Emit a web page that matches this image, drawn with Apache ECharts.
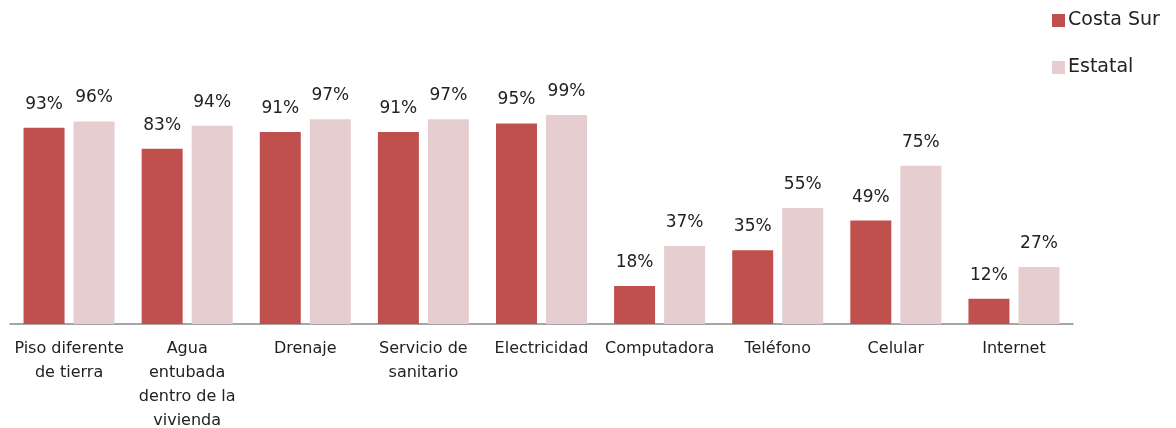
<!DOCTYPE html>
<html>
<head>
<meta charset="utf-8">
<script src="https://cdn.jsdelivr.net/npm/echarts@6/dist/echarts.min.js"></script>
<style>
  html, body { margin: 0; padding: 0; background: #fff; }
  #chart { width: 1176px; height: 428px; }
</style>
</head>
<body>
<div id="chart"></div>
<script>
var categories = ["Piso diferente\nde tierra", "Agua\nentubada\ndentro de la\nvivienda", "Drenaje", "Servicio de\nsanitario", "Electricidad", "Computadora", "Teléfono", "Celular", "Internet"];
var costaSur = [93, 83, 91, 91, 95, 18, 35, 49, 12];
var estatal = [96, 94, 97, 97, 99, 37, 55, 75, 27];
var seriesNames = ["Costa Sur", "Estatal"];

var fontFam = "DejaVu Sans";
var chart = echarts.init(document.getElementById("chart"));
chart.setOption({
    animation: false,
    textStyle: { fontFamily: fontFam },
    legend: {
        orient: "vertical",
        left: 1052,
        top: 11,
        padding: 0,
        itemWidth: 13,
        itemHeight: 13,
        itemGap: 28,
        icon: "rect",
        textStyle: { fontSize: 19, color: "#222", padding: [0, 0, 0, -2] },
        data: seriesNames
    },
    grid: { left: 10, right: 103, top: 113, bottom: 104, outerBoundsMode: "none" },
    xAxis: {
        type: "category",
        data: categories,
        axisLine: { lineStyle: { color: "#888", width: 1.5 } },
        axisTick: { show: false },
        axisLabel: { interval: 0, color: "#222", fontSize: 16, lineHeight: 24, margin: 13 }
    },
    yAxis: {
        type: "value",
        min: 0,
        max: 100,
        show: false,
        splitLine: { show: false }
    },
    series: [{
        name: seriesNames[0],
        type: "bar",
        data: costaSur,
        barWidth: 41,
        barGap: "22%",
        itemStyle: { color: "#C0504D" },
        label: { show: true, position: "top", distance: 15, formatter: "{c}%", fontSize: 17, color: "#222" }
    }, {
        name: seriesNames[1],
        type: "bar",
        data: estatal,
        barWidth: 41,
        itemStyle: { color: "#E6CDCF" },
        label: { show: true, position: "top", distance: 15, formatter: "{c}%", fontSize: 17, color: "#222" }
    }]
});
</script>
</body>
</html>
